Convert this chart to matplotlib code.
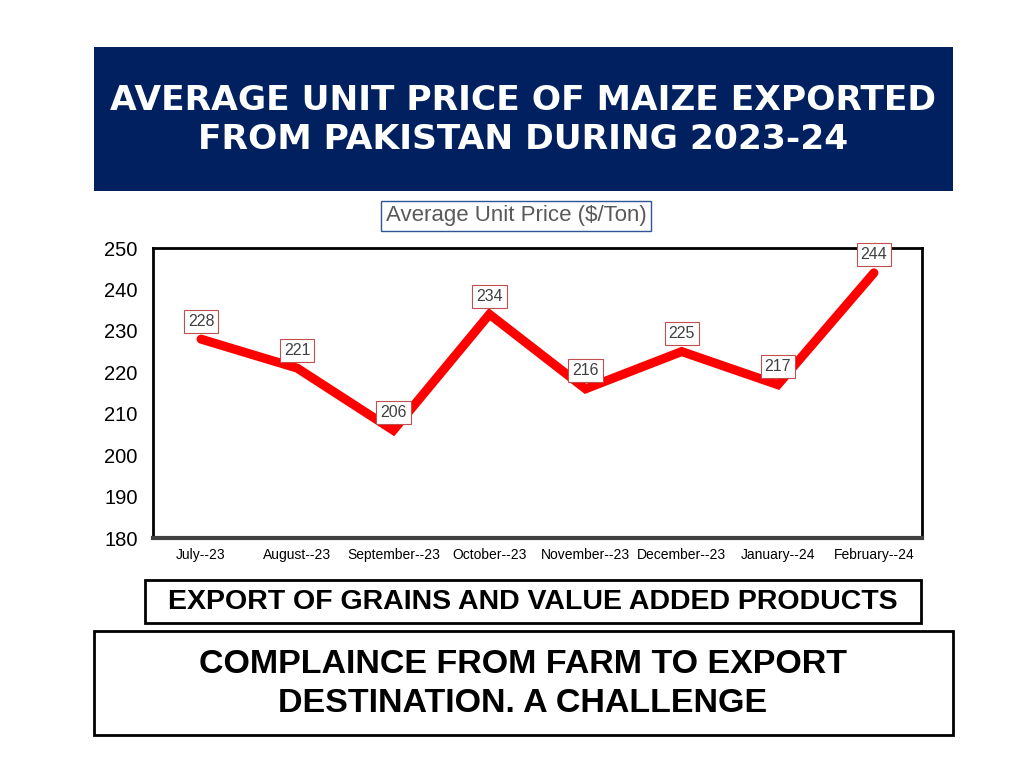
import matplotlib
matplotlib.use("Agg")
import matplotlib.pyplot as plt
from matplotlib.patches import Rectangle

months = ["July--23", "August--23", "September--23", "October--23",
          "November--23", "December--23", "January--24", "February--24"]
price = [228, 221, 206, 234, 216, 225, 217, 244]
yticks = [180, 190, 200, 210, 220, 230, 240, 250]

W, H = 1024, 768
plt.rcParams['font.family'] = ['Liberation Sans', 'DejaVu Sans']
fig = plt.figure(figsize=(W / 100, H / 100), dpi=100)


def box(x0, y0, x1, y1, **kw):
    # pixel coords (top-left origin) -> figure fraction rectangle
    r = Rectangle((x0 / W, 1 - y1 / H), (x1 - x0) / W, (y1 - y0) / H,
                  transform=fig.transFigure, **kw)
    fig.add_artist(r)


def ftext(x, y, s, **kw):
    fig.text(x / W, 1 - y / H, s, ha='center', va='center', **kw)


# title banner
box(94, 47, 953, 191, facecolor='#002060', edgecolor='none')
ftext(523, 120, "AVERAGE UNIT PRICE OF MAIZE EXPORTED\nFROM PAKISTAN DURING 2023-24",
      color='white', fontsize=24.8, fontweight='bold', linespacing=1.25,
      family=['DejaVu Sans'])

# series label
ftext(516, 216, "Average Unit Price ($/Ton)", color='#595959', fontsize=16,
      bbox=dict(boxstyle='square,pad=0.2', facecolor='white', edgecolor='#2F5597', lw=1))

ax = fig.add_axes([153 / W, 1 - 538 / H, 769 / W, 290 / H])
x = [i + 0.5 for i in range(len(months))]
ax.plot(x, price, color='#FF0000', lw=6.5, solid_capstyle='round', solid_joinstyle='miter')
for xi, v in zip(x, price):
    ax.annotate(str(v), (xi, v), xytext=(0, 13), textcoords='offset points',
                ha='center', va='center', fontsize=11.5, color='#404040',
                bbox=dict(boxstyle='square,pad=0.25', facecolor='white',
                          edgecolor='#C0504D', lw=0.8))
ax.set_xlim(0, len(months))
ax.set_ylim(180, 250)
ax.set_yticks(yticks)
ax.set_xticks(x)
ax.set_xticklabels(months, fontsize=10)
ax.tick_params(axis='y', labelsize=14.5, length=0, pad=11)
ax.tick_params(axis='x', length=0, pad=7)
for sp in ax.spines.values():
    sp.set_linewidth(2)
    sp.set_color('black')
ax.spines['bottom'].set_color('#404040')
ax.spines['bottom'].set_linewidth(3)

# bottom boxes
box(145, 580, 921, 623, facecolor='white', edgecolor='black', lw=2)
ftext(533, 602, "EXPORT OF GRAINS AND VALUE ADDED PRODUCTS",
      fontsize=20.5, fontweight='bold')
box(94, 631, 953, 735, facecolor='white', edgecolor='black', lw=2)
ftext(523, 684, "COMPLAINCE FROM FARM TO EXPORT\nDESTINATION. A CHALLENGE",
      fontsize=24.5, fontweight='bold', linespacing=1.35)

fig.savefig("out.png", dpi=100)
